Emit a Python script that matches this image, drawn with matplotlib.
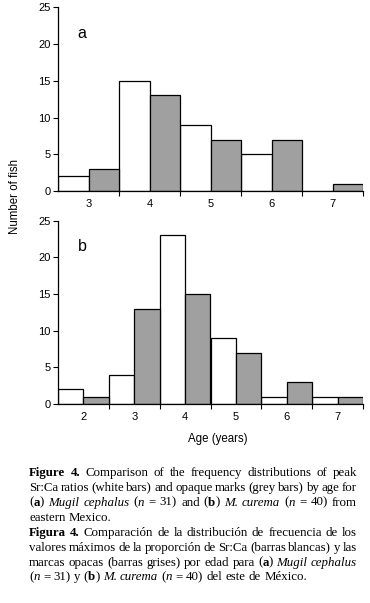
import re
import numpy as np
import matplotlib
matplotlib.use("Agg")
import matplotlib.pyplot as plt
from matplotlib import font_manager

# data
ages_a = [3, 4, 5, 6, 7]
srca_a = [2, 15, 9, 5, 0]      # white bars
opaque_a = [3, 13, 7, 7, 1]    # grey bars

ages_b = [2, 3, 4, 5, 6, 7]
srca_b = [2, 4, 23, 9, 1, 1]
opaque_b = [1, 13, 15, 7, 3, 1]

yticks = [0, 5, 10, 15, 20, 25]

caption = [
    ("**Figure** **4.** Comparison of the frequency distributions of peak", True),
    ("Sr:Ca ratios (white bars) and opaque marks (grey bars) by age for", True),
    ("(**a**) *Mugil* *cephalus* (*n* = 31) and (**b**) *M.* *curema* (*n* = 40) from", True),
    ("eastern Mexico.", False),
    ("**Figura** **4.** Comparación de la distribución de frecuencia de los", True),
    ("valores máximos de la proporción de Sr:Ca (barras blancas) y las", True),
    ("marcas opacas (barras grises) por edad para (**a**) *Mugil* *cephalus*", True),
    ("(*n* = 31) y (**b**) *M.* *curema* (*n* = 40) del este de México.", False),
]

W, H = 370, 603
fig = plt.figure(figsize=(W / 100, H / 100), dpi=100)

names = {f.name for f in font_manager.fontManager.ttflist}
tickfont = "Liberation Sans Narrow" if "Liberation Sans Narrow" in names else "Liberation Sans"
sans = "Liberation Sans"
grey = "#a0a0a0"


def panel(rect, ages, white, dark, letter):
    ax = fig.add_axes(rect)
    n = len(ages)
    x = np.arange(n)
    ax.bar(x, white, width=0.5, align="edge", color="white", edgecolor="black", lw=0.9)
    ax.bar(x + 0.5, dark, width=0.5, align="edge", color=grey, edgecolor="black", lw=0.9)
    ax.set_xlim(0, n)
    ax.set_ylim(0, 25)
    ax.set_yticks(yticks)
    ax.set_xticks(np.arange(1, n + 1))
    ax.set_xticklabels([])
    ax.set_xticks(x + 0.5, minor=True)
    ax.set_xticklabels([str(a) for a in ages], minor=True, fontfamily=tickfont, fontsize=8)
    ax.tick_params(axis="x", which="major", length=3.5, width=0.8, direction="out")
    ax.tick_params(axis="x", which="minor", length=0, pad=6)
    ax.tick_params(axis="y", length=3.5, width=0.8, pad=2, labelsize=8)
    for lab in ax.get_yticklabels():
        lab.set_fontfamily(tickfont)
    for s in ("top", "right"):
        ax.spines[s].set_visible(False)
    for s in ("left", "bottom"):
        ax.spines[s].set_linewidth(0.9)
    ax.text(0.065, 0.86, letter, transform=ax.transAxes, fontsize=11.5,
            fontfamily=sans, ha="left", va="center")
    return ax


ax_a = panel([58 / W, 412 / H, 305 / W, 183.7 / H], ages_a, srca_a, opaque_a, "a")
ax_b = panel([58 / W, 199 / H, 305 / W, 183.3 / H], ages_b, srca_b, opaque_b, "b")

fig.text(15 / W, 1 - 196 / H, "Number of fish", rotation=90, fontsize=8.3,
         fontfamily=sans, ha="center", va="center")
fig.text(218 / W, 1 - 439 / H, "Age (years)", fontsize=8.3,
         fontfamily=sans, ha="center", va="center")

# justified caption
fs = 9.25
left, right = 29.0, 357.0
base0, step = 475.7, 14.97
renderer = fig.canvas.get_renderer()


def parse_word(word):
    segs = []
    for part in re.split(r"(\*\*.+?\*\*|\*.+?\*)", word):
        if not part:
            continue
        if part.startswith("**"):
            segs.append((part[2:-2], "bold", "normal"))
        elif part.startswith("*"):
            segs.append((part[1:-1], "normal", "italic"))
        else:
            segs.append((part, "normal", "normal"))
    return segs


space = 0.25 * fs * 100 / 72
for i, (line, justify) in enumerate(caption):
    yb = 1 - (base0 + i * step) / H
    words = []
    for w in line.split(" "):
        items = []
        width = 0.0
        for txt, wt, st in parse_word(w):
            t = fig.text(0, yb, txt, fontsize=fs, fontfamily="Liberation Serif",
                         fontweight=wt, fontstyle=st, ha="left", va="baseline")
            ww = t.get_window_extent(renderer).width
            items.append((t, width))
            width += ww
        words.append((items, width))
    total = sum(wd for _, wd in words)
    gap = (right - left - total) / (len(words) - 1) if justify else space
    xpos = left
    for items, wd in words:
        for t, off in items:
            t.set_x((xpos + off) / W)
        xpos += wd + gap

fig.savefig("out.png", dpi=100)
